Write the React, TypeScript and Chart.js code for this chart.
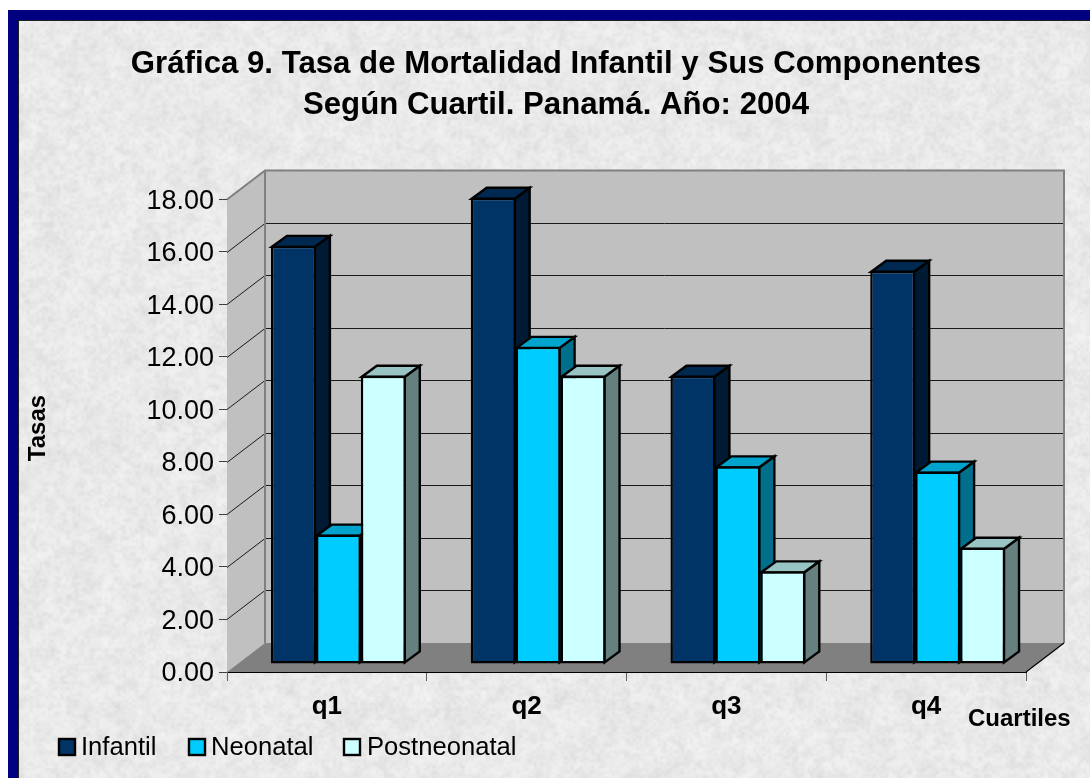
import React, { useEffect, useRef } from "react";
import { Chart, registerables } from "chart.js";

Chart.register(...registerables);

const categories = ["q1", "q2", "q3", "q4"];
const infantil = [15.93, 17.76, 10.98, 14.98];
const neonatal = [4.93, 12.08, 7.53, 7.33];
const postneonatal = [10.98, 10.98, 3.53, 4.43];
const yTicks = [0, 2, 4, 6, 8, 10, 12, 14, 16, 18];
const titleLines = [
  "Gráfica 9. Tasa de Mortalidad Infantil y Sus Componentes",
  "Según Cuartil. Panamá. Año: 2004",
];

const FONT = '"Liberation Sans", Arial, sans-serif';
const WALL_DX = 38;
const WALL_DY = -29;
const BAR_DX = 11.5;
const BAR_DY = -8;
const SIDE_DX = 15;
const SIDE_DY = -11;

const faces = [
  { front: "#003366", top: "#002952", side: "#001a33" },
  { front: "#00ccff", top: "#00a3cc", side: "#006f8c" },
  { front: "#ccffff", top: "#99c4c4", side: "#668080" },
];

function mix(x: number, y: number, s: number) {
  let h = (x * 374761393 + y * 668265263 + s * 2147483647) | 0;
  h = Math.imul(h ^ (h >>> 13), 1274126177);
  return ((h ^ (h >>> 16)) >>> 0) / 4294967296;
}

function noiseLayer(w: number, h: number, cell: number, seed: number) {
  const c = document.createElement("canvas");
  c.width = Math.ceil(w / cell) + 1;
  c.height = Math.ceil(h / cell) + 1;
  const g = c.getContext("2d")!;
  const img = g.createImageData(c.width, c.height);
  for (let y = 0; y < c.height; y++) {
    for (let x = 0; x < c.width; x++) {
      const i = (y * c.width + x) * 4;
      const v = mix(x, y, seed);
      const tone = v < 0.5 ? 185 : 255;
      img.data[i] = tone;
      img.data[i + 1] = tone;
      img.data[i + 2] = tone;
      img.data[i + 3] = Math.abs(v - 0.5) * 2 * 255;
    }
  }
  g.putImageData(img, 0, 0);
  return c;
}

const backdropPlugin = {
  id: "backdrop",
  beforeDraw(chart: any) {
    const { ctx, width, height } = chart;
    ctx.save();
    ctx.fillStyle = "#ffffff";
    ctx.fillRect(0, 0, width, height);
    ctx.fillStyle = "#eeeeee";
    ctx.fillRect(8, 10, width - 8, height - 10);
    ctx.beginPath();
    ctx.rect(8, 10, width - 8, height - 10);
    ctx.clip();
    ctx.imageSmoothingEnabled = true;
    const layers = [
      { cell: 14, seed: 11, alpha: 0.12 },
      { cell: 6, seed: 23, alpha: 0.16 },
      { cell: 3, seed: 37, alpha: 0.16 },
    ];
    for (const l of layers) {
      ctx.globalAlpha = l.alpha;
      const n = noiseLayer(width, height, l.cell, l.seed);
      ctx.drawImage(n, 0, 0, n.width * l.cell, n.height * l.cell);
    }
    ctx.globalAlpha = 1;
    ctx.fillStyle = "#000080";
    ctx.fillRect(8, 10, width - 8, 10);
    ctx.fillRect(8, 10, 10, height - 10);
    ctx.fillStyle = "#202020";
    ctx.fillRect(18, 20, width - 18, 1);
    ctx.fillRect(18, 20, 1, height - 20);
    ctx.restore();
  },
};

const wallsPlugin = {
  id: "walls",
  beforeDatasetsDraw(chart: any) {
    const { ctx, scales, chartArea } = chart;
    const y = scales.y;
    const L = chartArea.left;
    const R = chartArea.right;
    const B = y.getPixelForValue(0);
    const T = y.getPixelForValue(18);
    const poly = (pts: number[][], fill: string) => {
      ctx.beginPath();
      pts.forEach((p, i) => (i ? ctx.lineTo(p[0], p[1]) : ctx.moveTo(p[0], p[1])));
      ctx.closePath();
      ctx.fillStyle = fill;
      ctx.fill();
    };
    const seg = (pts: number[][], color: string, w: number) => {
      ctx.beginPath();
      pts.forEach((p, i) => (i ? ctx.lineTo(p[0], p[1]) : ctx.moveTo(p[0], p[1])));
      ctx.strokeStyle = color;
      ctx.lineWidth = w;
      ctx.stroke();
    };
    ctx.save();
    poly([[L + WALL_DX, T + WALL_DY], [R + WALL_DX, T + WALL_DY], [R + WALL_DX, B + WALL_DY], [L + WALL_DX, B + WALL_DY]], "#c0c0c0");
    poly([[L, T], [L + WALL_DX, T + WALL_DY], [L + WALL_DX, B + WALL_DY], [L, B]], "#c0c0c0");
    poly([[L, B], [L + WALL_DX, B + WALL_DY], [R + WALL_DX, B + WALL_DY], [R, B]], "#808080");
    for (const v of yTicks) {
      if (v === 0 || v === 18) continue;
      const p = Math.round(y.getPixelForValue(v)) + 0.5;
      seg([[L, p], [L + WALL_DX, p + WALL_DY], [R + WALL_DX, p + WALL_DY]], "#1a1a1a", 1);
    }
    seg([[L, T], [L + WALL_DX, T + WALL_DY], [R + WALL_DX, T + WALL_DY], [R + WALL_DX, B + WALL_DY]], "#808080", 2);
    seg([[L + WALL_DX, T + WALL_DY], [L + WALL_DX, B + WALL_DY]], "#808080", 2);
    seg([[R, B], [R + WALL_DX, B + WALL_DY]], "#000000", 1.2);

    // Side and top faces of every bar, painted left to right so the fronts sit above them all.
    ctx.translate(BAR_DX, BAR_DY);
    ctx.lineWidth = 2.4;
    ctx.strokeStyle = "#000000";
    ctx.lineJoin = "miter";
    for (let g = 0; g < categories.length; g++) {
      chart.data.datasets.forEach((_: any, i: number) => {
        const bar = chart.getDatasetMeta(i).data[g];
        const face = faces[i];
        const l = bar.x - bar.width / 2;
        const r = bar.x + bar.width / 2;
        const t = bar.y + 1;
        const b = bar.base - 1;
        ctx.beginPath();
        ctx.moveTo(r - 1, t);
        ctx.lineTo(r - 1 + SIDE_DX, t + SIDE_DY);
        ctx.lineTo(r - 1 + SIDE_DX, b + SIDE_DY);
        ctx.lineTo(r - 1, b);
        ctx.closePath();
        ctx.fillStyle = face.side;
        ctx.fill();
        ctx.stroke();
        ctx.beginPath();
        ctx.moveTo(l + 1, t);
        ctx.lineTo(l + 1 + SIDE_DX, t + SIDE_DY);
        ctx.lineTo(r - 1 + SIDE_DX, t + SIDE_DY);
        ctx.lineTo(r - 1, t);
        ctx.closePath();
        ctx.fillStyle = face.top;
        ctx.fill();
        ctx.stroke();
      });
    }
    ctx.restore();
  },
  beforeDatasetDraw(chart: any) {
    chart.ctx.save();
    chart.ctx.translate(BAR_DX, BAR_DY);
  },
  afterDatasetDraw(chart: any) {
    chart.ctx.restore();
  },
};

const annotationsPlugin = {
  id: "annotations",
  afterDraw(chart: any) {
    const { ctx } = chart;
    ctx.save();
    ctx.fillStyle = "#000000";
    ctx.textBaseline = "middle";
    ctx.font = `bold 24px ${FONT}`;
    ctx.textAlign = "left";
    ctx.fillText("Cuartiles", 968, 719);
    ctx.save();
    ctx.translate(38, 428);
    ctx.rotate(-Math.PI / 2);
    ctx.textAlign = "center";
    ctx.fillText("Tasas", 0, 0);
    ctx.restore();
    const slots = [
      { box: 59, text: 81 },
      { box: 189, text: 211 },
      { box: 344, text: 367 },
    ];
    ctx.font = `25.6px ${FONT}`;
    ctx.textAlign = "left";
    chart.data.datasets.forEach((d: any, i: number) => {
      const s = slots[i];
      ctx.fillStyle = d.backgroundColor;
      ctx.fillRect(s.box, 739, 16, 16);
      ctx.strokeStyle = "#000000";
      ctx.lineWidth = 2.4;
      ctx.strokeRect(s.box, 739, 16, 16);
      ctx.fillStyle = "#000000";
      ctx.fillText(d.label, s.text, 748);
    });
    ctx.restore();
  },
};

export default function App() {
  const ref = useRef<HTMLCanvasElement | null>(null);
  useEffect(() => {
    const mk = (label: string, data: number[], i: number) => ({
      label,
      data,
      backgroundColor: faces[i].front,
      borderColor: "#000000",
      borderWidth: 2.4,
      borderSkipped: false,
      categoryPercentage: 0.675,
      barPercentage: 1,
      clip: false,
    });
    const chart = new Chart(ref.current!, {
      type: "bar",
      data: {
        labels: categories,
        datasets: [
          mk("Infantil", infantil, 0),
          mk("Neonatal", neonatal, 1),
          mk("Postneonatal", postneonatal, 2),
        ],
      },
      plugins: [backdropPlugin, wallsPlugin, annotationsPlugin],
      options: {
        responsive: false,
        animation: false,
        devicePixelRatio: 1,
        layout: { padding: { left: 86, right: 64, top: 40, bottom: 56 } },
        plugins: {
          legend: { display: false },
          tooltip: { enabled: false },
          title: {
            display: true,
            text: titleLines,
            color: "#000000",
            font: { family: FONT, size: 31.2, weight: "bold", lineHeight: 1.314 },
            padding: { top: 3.5, bottom: 74 },
          },
        },
        scales: {
          x: {
            offset: true,
            border: { display: true, color: "#000000", width: 1 },
            grid: {
              display: true,
              offset: true,
              drawOnChartArea: false,
              drawTicks: true,
              tickLength: 9,
              color: "#606060",
            },
            ticks: {
              color: "#000000",
              font: { family: FONT, size: 26, weight: "bold" },
              padding: 10,
              maxRotation: 0,
            },
            afterFit: (s: any) => {
              s.height = 50;
            },
          },
          y: {
            min: 0,
            max: 18,
            border: { display: true, color: "#606060", width: 1 },
            grid: {
              display: true,
              drawOnChartArea: false,
              drawTicks: true,
              tickLength: 8,
              color: "#404040",
            },
            ticks: {
              stepSize: 2,
              color: "#000000",
              padding: 5,
              labelOffset: 2,
              font: { family: FONT, size: 27 },
              callback: (v: any) => Number(v).toFixed(2),
            },
            afterFit: (s: any) => {
              s.width = 141;
            },
          },
        },
      },
    } as any);
    return () => chart.destroy();
  }, []);
  return (
    <canvas
      ref={ref}
      width={1090}
      height={778}
      style={{ position: "fixed", left: 0, top: 0, display: "block" }}
    />
  );
}
